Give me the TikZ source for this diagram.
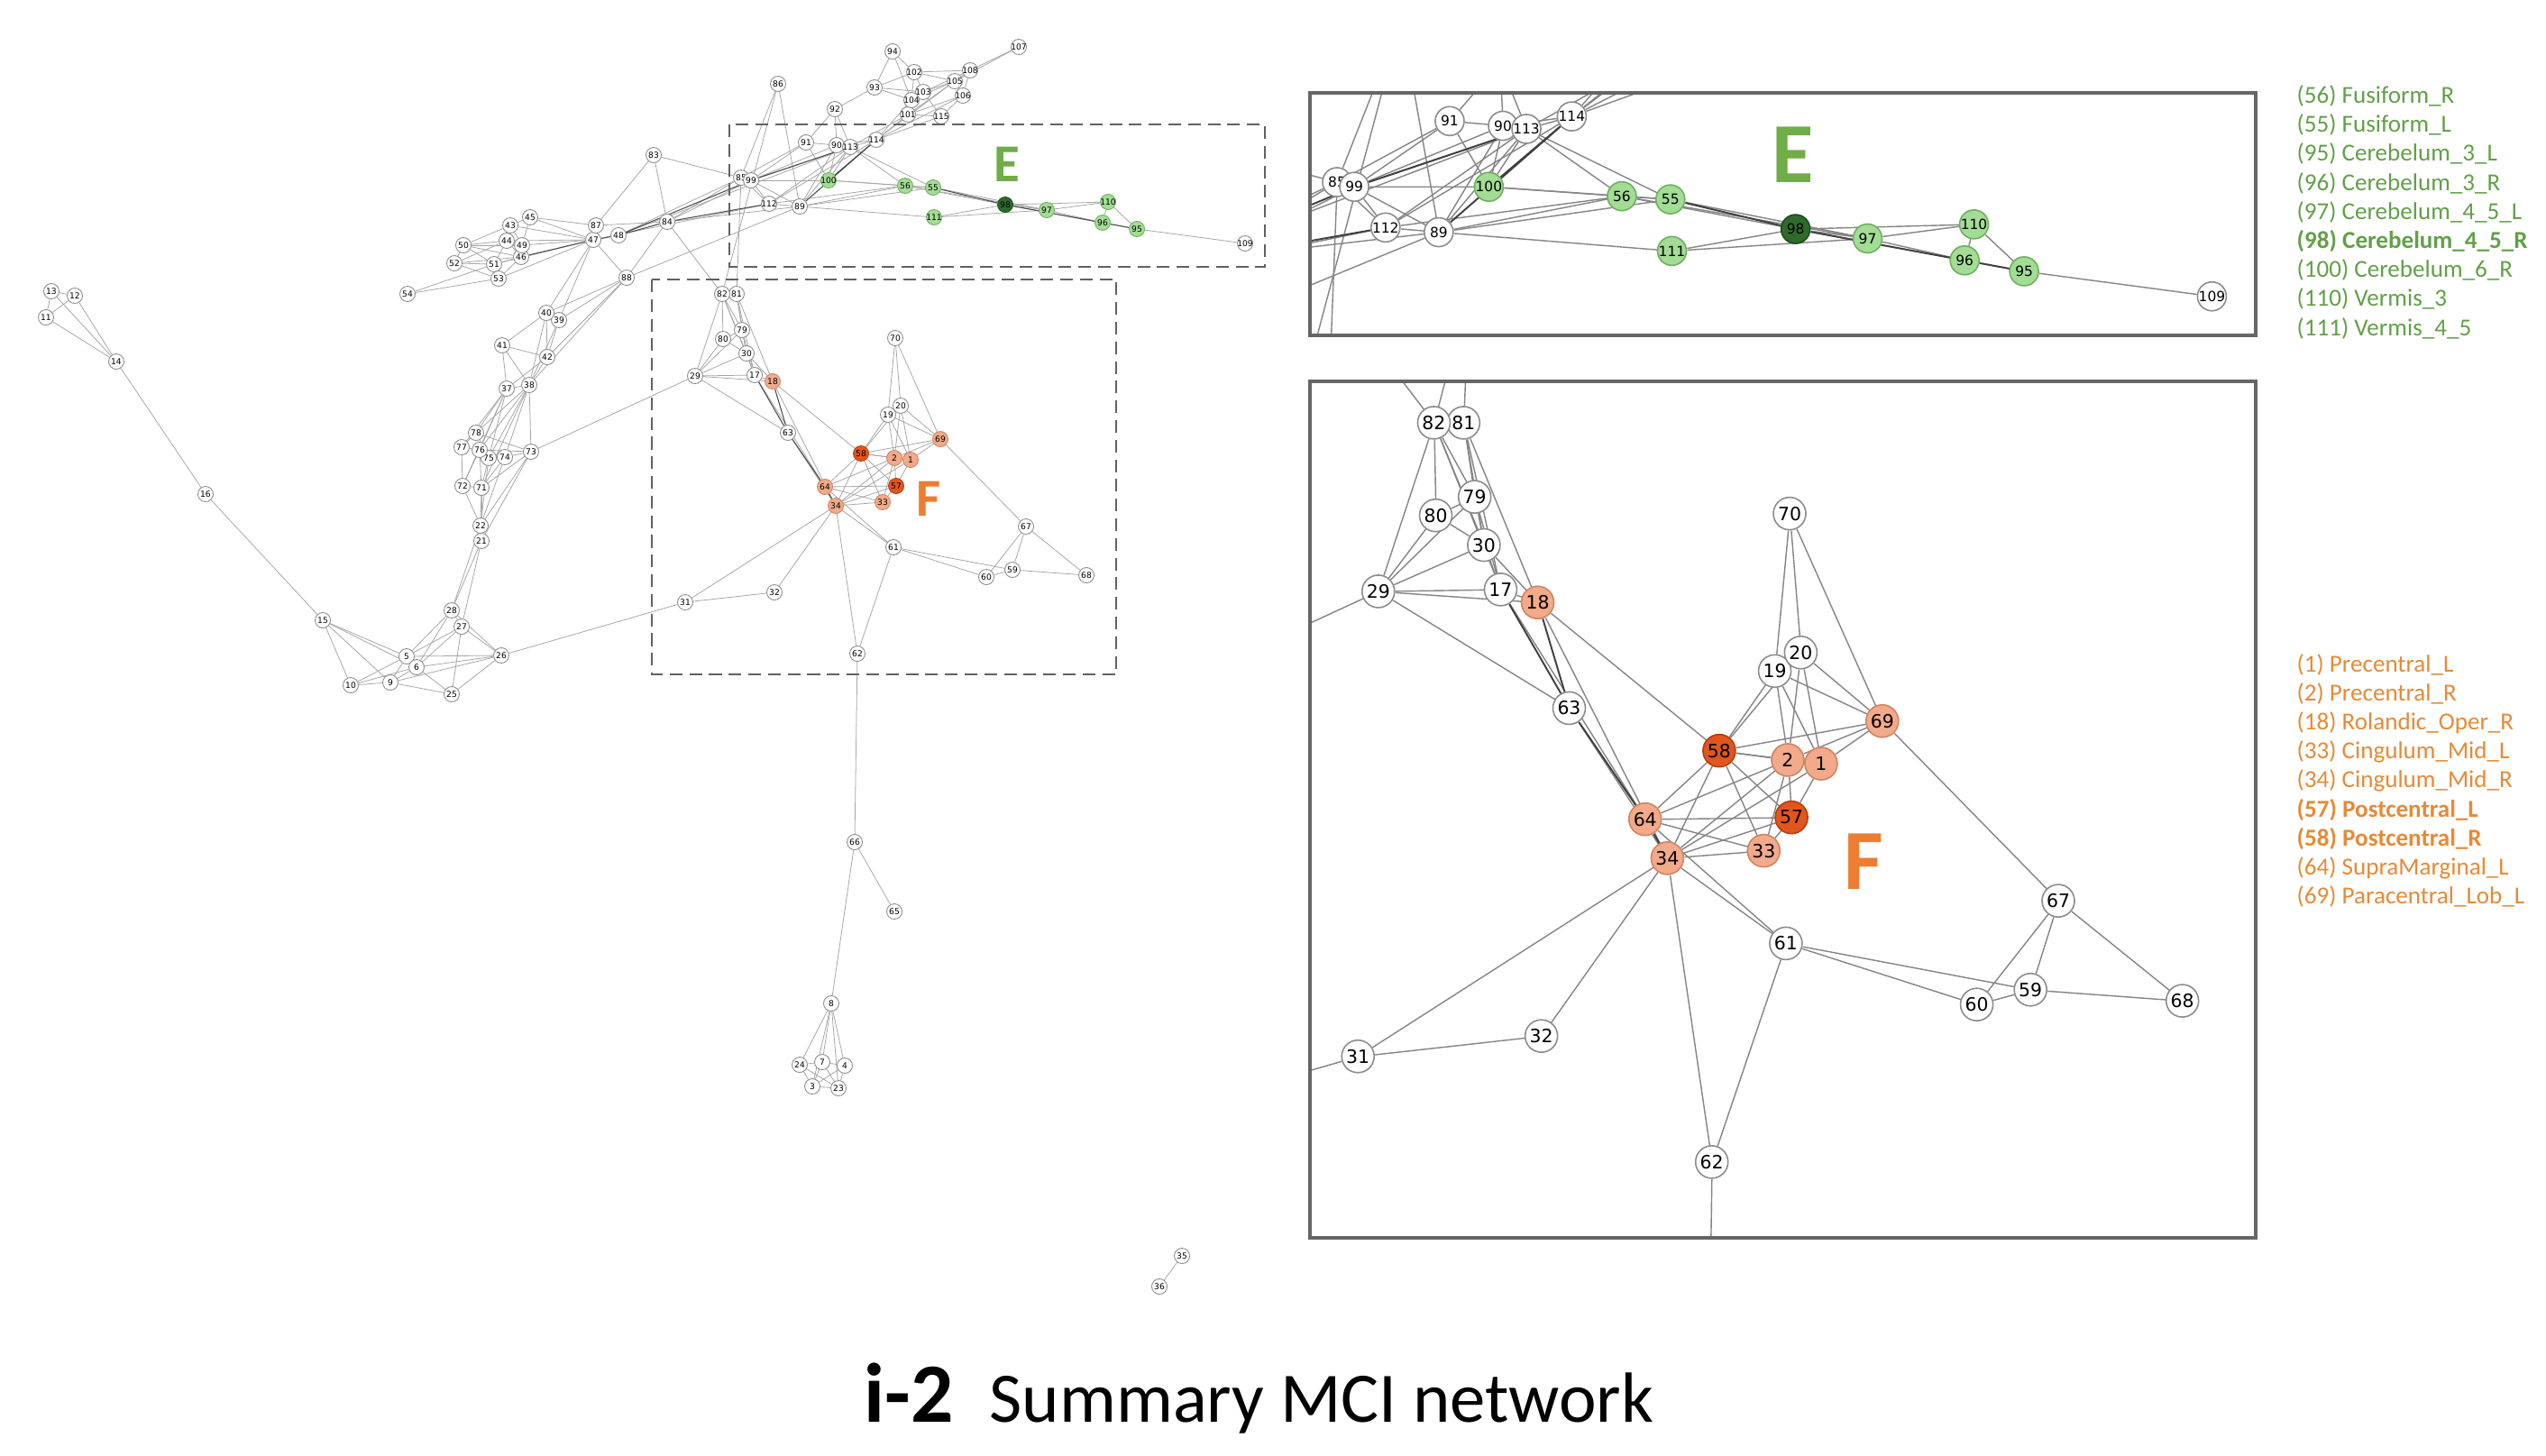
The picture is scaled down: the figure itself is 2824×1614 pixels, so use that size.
\documentclass[tikz,border=0pt]{standalone}
\usepackage{fontspec}
\setmainfont{Carlito}
\newfontfamily\netfont{DejaVu Sans}
\usetikzlibrary{backgrounds}
\definecolor{egreen}{HTML}{70AD47}
\definecolor{forange}{HTML}{ED7D31}
\definecolor{legE}{HTML}{62A048}
\definecolor{legF}{HTML}{E68A36}
\colorlet{nfillw}{white}
\colorlet{nlinew}{black!45}
\definecolor{nfillg}{HTML}{A3DC95}
\definecolor{nlineg}{HTML}{6FAF5E}
\definecolor{nfillG}{HTML}{2E6B2B}
\definecolor{nlineG}{HTML}{1F4A1D}
\definecolor{nfillo}{HTML}{F2AA8A}
\definecolor{nlineo}{HTML}{D08560}
\definecolor{nfillO}{HTML}{E2561D}
\definecolor{nlineO}{HTML}{B03F12}
\tikzset{
	lnode/.style={circle,inner sep=0pt,minimum size=0.17cm,line width=0.25pt,font=\netfont\fontsize{2.6}{3}\selectfont},
	enode/.style={circle,inner sep=0pt,minimum size=0.32cm,line width=0.45pt,font=\netfont\fontsize{4.4}{5}\selectfont},
	fnode/.style={circle,inner sep=0pt,minimum size=0.36cm,line width=0.45pt,font=\netfont\fontsize{5.8}{6}\selectfont},
	ledge/.style={draw=black!35,line width=0.22pt},
	lstrong/.style={draw=black!70,line width=0.3pt},
	pedge/.style={draw=black!48,line width=0.4pt},
	pstrong/.style={draw=black!75,line width=0.55pt},
	zoombox/.style={draw=black!62,line width=0.8pt,dash pattern=on 4pt off 2.2pt},
	panelbox/.style={draw=black!60,line width=1pt},
	sublabel/.style={inner sep=0pt,font=\bfseries\fontsize{16.8}{18}\selectfont},
	biglabel/.style={inner sep=0pt,font=\bfseries\fontsize{27}{30}\selectfont},
	legtext/.style={inner sep=0pt,anchor=base west,font=\fontsize{7.7}{9}\selectfont}
}
\newcommand{\nodelist}{1/1010/510/o, 2/992/508/o, 3/901/1205/w, 4/937/1182/w, 5/451/728/w,
6/462/740/w, 7/912/1178/w, 8/922/1113/w, 9/433/757/w, 10/389/760/w, 11/51/352/w, 12/83/328/w,
13/57/323/w, 14/129/401/w, 15/358/688/w, 16/228/548/w, 17/837/416/w, 18/857/423/o, 19/985/460/w,
20/999/450/w, 21/534/600/w, 22/533/583/w, 23/930/1207/w, 24/887/1181/w, 25/501/770/w, 26/556/727/w,
27/512/695/w, 28/501/677/w, 29/771/417/w, 30/828/392/w, 31/760/668/w, 32/859/657/w, 33/979/557/o,
34/927/561/o, 35/1311/1393/w, 36/1286/1427/w, 37/562/431/w, 38/587/427/w, 39/620/355/w, 40/606/347/w,
41/557/383/w, 42/607/396/w, 43/566/250/w, 44/562/267/w, 45/588/241/w, 46/578/285/w, 47/658/266/w,
48/686/261/w, 49/579/272/w, 50/514/272/w, 51/548/293/w, 52/504/292/w, 53/553/309/w, 54/452/326/w,
55/1035/208/g, 56/1004/206/g, 57/994/539/O, 58/955/503/O, 59/1123/632/w, 60/1094/640/w, 61/991/607/w,
62/951/725/w, 63/874/480/w, 64/915/540/o, 65/992/1011/w, 66/948/934/w, 67/1138/584/w, 68/1205/638/w,
69/1043/487/o, 70/993/375/w, 71/534/541/w, 72/513/539/w, 73/589/501/w, 74/560/507/w, 75/542/508/w,
76/532/499/w, 77/512/496/w, 78/528/480/w, 79/823/366/w, 80/802/376/w, 81/817/326/w, 82/801/326/w,
83/725/172/w, 84/740/246/w, 85/822/197/w, 86/863/93/w, 87/661/250/w, 88/695/308/w, 89/887/229/w,
90/928/161/w, 91/894/158/w, 92/926/121/w, 93/970/97/w, 94/990/57/w, 95/1261/254/g, 96/1223/247/g,
97/1161/233/g, 98/1115/227/G, 99/833/200/w, 100/919/200/g, 101/1007/127/w, 102/1014/80/w,
103/1024/102/w, 104/1011/111/w, 105/1059/90/w, 106/1068/106/w, 107/1130/52/w, 108/1076/78/w,
109/1381/270/w, 110/1229/224/g, 111/1036/241/g, 112/853/226/w, 113/943/163/w, 114/972/155/w,
115/1044/129/w}
\newcommand{\edgelist}{11/12, 11/13, 12/13, 11/14, 12/14, 13/14, 14/16, 16/15,
15/5, 15/6, 15/9, 15/10, 10/9, 10/5, 10/6, 9/5, 9/6, 5/6, 5/26, 6/26, 9/26, 5/28, 6/28, 5/27, 6/27,
6/25, 9/25, 27/25, 25/26, 27/26, 28/26, 28/27, 27/21, 28/21, 28/22, 26/31,
21/22, 22/71, 22/72, 22/73, 22/74, 21/73, 21/71, 22/75,
72/71, 72/77, 72/76, 71/76, 71/75, 71/74, 71/73, 77/76, 77/78, 78/76, 78/75, 76/75, 76/74, 76/73,
75/74, 74/73, 78/73, 78/38, 76/38, 75/38, 74/38, 73/38, 77/37, 78/37, 71/38, 72/37, 73/29, 75/37, 76/37,
37/38, 37/41, 38/41, 38/42, 37/42, 41/42, 41/40, 40/39, 40/42, 39/42, 38/40, 38/39, 42/88, 39/88,
40/88, 40/47, 39/47, 38/88,
47/87, 87/84, 87/83, 83/84, 83/85, 47/88, 88/84, 84/82, 88/89, 54/53, 54/51, 45/43, 45/47, 43/47,
44/47, 49/47, 51/47, 53/47, 50/43, 50/44, 50/49, 50/46, 50/51, 50/52, 52/51, 52/53, 52/46, 44/49,
44/46, 43/44, 43/49, 45/49, 46/49, 51/46, 53/46, 51/53, 52/44, 45/87, 44/51,
48/85, 47/112, 84/99, 84/89, 84/85, 48/113,
86/85, 86/89, 86/82, 92/91, 92/90, 92/93, 92/113, 93/94, 94/104, 94/102, 93/102, 93/104, 93/103,
102/103, 102/104, 102/108, 102/105, 103/105, 103/104, 104/105, 105/108, 105/106, 106/108, 107/108,
107/105, 104/101, 101/115, 101/114, 114/115, 103/101, 105/114, 106/114, 115/106, 104/114, 101/113,
114/113, 114/90, 113/90, 90/91, 91/85, 91/99, 90/99, 113/99, 113/100, 90/100, 91/100, 99/100,
85/112, 99/112, 99/89, 112/89, 112/113, 89/113, 112/114, 89/90, 105/101, 103/115, 106/101, 108/103,
113/56, 113/55, 100/56, 89/56, 89/111, 112/56, 56/55, 56/98, 111/98, 111/97, 98/97, 98/110, 98/95,
97/110, 97/96, 110/95, 110/96, 95/109, 55/97, 56/97, 100/55, 89/55, 81/85,
82/81, 82/79, 82/80, 82/29, 82/30, 82/17, 81/79, 81/17, 81/18, 81/30, 79/80, 79/30, 79/17, 80/30,
80/29, 30/29, 30/17, 17/29, 18/29, 17/18, 17/64, 29/63, 63/34, 18/34, 18/58, 30/18, 29/79,
58/2, 58/1, 58/19, 58/20, 58/69, 58/64, 58/34, 58/33, 58/57, 2/1, 2/19, 2/20, 2/69, 2/57, 2/33,
2/34, 1/20, 1/19, 1/69, 1/57, 1/34, 57/34, 57/64, 57/33, 33/34, 33/64, 2/64, 19/20, 19/70, 20/70,
70/69, 20/69, 19/69, 69/67, 34/61, 64/61, 34/31, 34/32, 34/62, 61/62, 61/59, 61/60, 67/60, 67/59,
67/68, 59/68, 59/60, 31/32,
62/66, 66/65, 66/8, 8/24, 8/7, 8/4, 8/3, 8/23, 24/7, 24/23, 24/3, 7/4, 7/23, 7/3, 4/23, 4/3, 3/23, 35/36}
\newcommand{\strongedges}{47/46, 47/48, 48/84, 84/112, 48/99, 100/114, 89/114, 99/113, 55/98,
98/96, 96/95, 17/63, 63/64, 18/63, 64/34}
% #1 prefix, #2 node style, #3 edge style, #4 strong edge style, #5-#8 visible box
\newcommand{\drawnet}[8]{%
  \begin{scope}
    \clip (#5,#6) rectangle (#7,#8);
    \foreach \n/\x/\y/\k in \nodelist {
      \pgfmathtruncatemacro\inbox{and(and(\x>#5-10,\x<#7+10),and(\y>#6-10,\y<#8+10))}
      \ifnum\inbox=1
        \node[#2,fill=nfill\k,draw=nline\k] (#1\n) at (\x,\y) {\makebox[0pt]{\n}};
      \else
        \coordinate (#1\n) at (\x,\y);
      \fi
    }
  \end{scope}
  \begin{pgfonlayer}{background}
    \begin{scope}
      \clip (#5,#6) rectangle (#7,#8);
      \foreach \a/\b in \edgelist
        \draw[#3] (#1\a) -- (#1\b);
      \foreach \a/\b in \strongedges
        \draw[#4] (#1\a) -- (#1\b);
    \end{scope}
  \end{pgfonlayer}
}
\begin{document}
\begin{tikzpicture}[x=0.01cm,y=-0.01cm]
\useasboundingbox (0,0) rectangle (2824,1614);
\begin{pgfonlayer}{background}
  \fill[white] (0,0) rectangle (2824,1614);
\end{pgfonlayer}

\drawnet{L}{lnode}{ledge}{lstrong}{0}{0}{2824}{1614}
\draw[zoombox] (809,138) rectangle (1403,296);
\draw[zoombox] (723,310) rectangle (1238,748);
\node[sublabel,text=egreen] (labE) at (1117,182) {E};
\node[sublabel,text=forange] (labF) at (1030,553) {F};

% zoomed region E
\begin{scope}[shift={(56,-140)},scale=1.736]
  \drawnet{E}{enode}{pedge}{pstrong}{804.7}{140}{1409}{294.9}
\end{scope}
\draw[panelbox] (1453,103) rectangle (2502,372);
\node[biglabel,text=egreen] (bigE) at (1989,172) {E};

% zoomed region F
\begin{scope}[shift={(-55.6,-201)},scale=2.055]
  \drawnet{F}{fnode}{pedge}{pstrong}{734.1}{303.6}{1244.6}{766}
\end{scope}
\draw[panelbox] (1453,423) rectangle (2502,1373);
\node[biglabel,text=forange] (bigF) at (2067,956) {F};

\foreach \txt [count=\i] in {(56) Fusiform\_R, (55) Fusiform\_L, (95) Cerebelum\_3\_L,
  (96) Cerebelum\_3\_R, (97) Cerebelum\_4\_5\_L, \textbf{(98) Cerebelum\_4\_5\_R},
  (100) Cerebelum\_6\_R, (110) Vermis\_3, (111) Vermis\_4\_5}
  \node[legtext,text=legE] (legE\i) at (2547,{114.5+32.2*(\i-1)}) {\txt};
\foreach \txt [count=\i] in {(1) Precentral\_L, (2) Precentral\_R, (18) Rolandic\_Oper\_R,
  (33) Cingulum\_Mid\_L, (34) Cingulum\_Mid\_R, \textbf{(57) Postcentral\_L},
  \textbf{(58) Postcentral\_R}, (64) SupraMarginal\_L, (69) Paracentral\_Lob\_L}
  \node[legtext,text=legF] (legF\i) at (2547,{745.5+32.1*(\i-1)}) {\txt};

\node[inner sep=0pt,anchor=base west,font=\bfseries\fontsize{26.6}{30}\selectfont] (titlenum) at (958,1577) {i-2};
\node[inner sep=0pt,anchor=base west,font=\fontsize{22.4}{26}\selectfont] (titletxt) at (1097,1577) {Summary MCI network};
\end{tikzpicture}
\end{document}
